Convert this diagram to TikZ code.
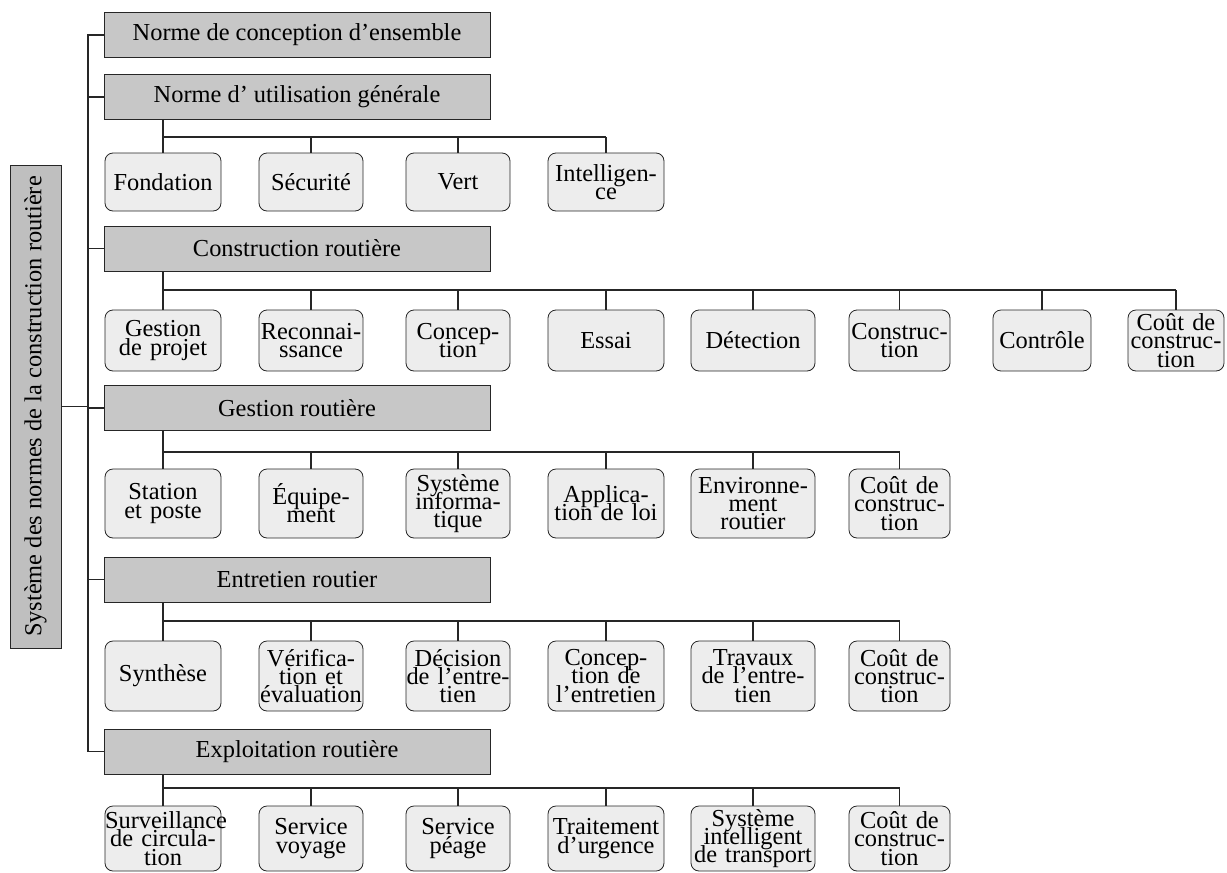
\documentclass[tikz,border=0pt]{standalone}
\usepackage{fontspec}
\setmainfont{Liberation Serif}
\newcommand{\headfont}{\fontsize{12.2}{14}\selectfont}
\newcommand{\leaffont}{\fontsize{12.2}{9.1}\selectfont\lineskiplimit=-20pt\hyphenpenalty=10000\relax}
\tikzstyle{sysbox} = [rectangle, draw=black!85, fill=black!25, rotate=90,
     minimum width=241.5pt, minimum height=25.5pt, inner sep=0pt, font=\headfont]
\tikzstyle{head} = [rectangle, draw=black!85, fill=black!22,
     minimum width=193pt, minimum height=22.5pt, inner sep=0pt, font=\headfont]
\tikzstyle{leaf} = [rectangle, draw=black!85, fill=black!7, rounded corners=4pt,
     align=center, inner sep=0pt, font=\leaffont]
\tikzstyle{line} = [line width=0.6pt, draw=black!85]
% column widths
\tikzstyle{col1} = [text width=58pt]
\tikzstyle{col2} = [text width=52pt]
\tikzstyle{col3} = [text width=52pt]
\tikzstyle{col4} = [text width=58pt]
\tikzstyle{col5} = [text width=62pt]
\tikzstyle{col6} = [text width=50.5pt]
\tikzstyle{col7} = [text width=49pt]
\tikzstyle{col8} = [text width=48pt]
% row heights
\tikzstyle{row1} = [minimum height=29pt]
\tikzstyle{row2} = [minimum height=30.5pt]
\tikzstyle{row3} = [minimum height=34.5pt]
\tikzstyle{row4} = [minimum height=35pt]
\tikzstyle{row5} = [minimum height=32.5pt]

\begin{document}
\begin{tikzpicture}[x=0.5pt, y=-0.5pt]
     \useasboundingbox (0,0) rectangle (1227,873);
     % Nodes
     \node [sysbox] (sys) at (35.5,406.5) {Système des normes de la construction routière};
     \node [head] (ens) at (297,35) {Norme de conception d’ensemble};
     \node [head] (gen) at (297,97) {Norme d’ utilisation générale};
     \node [head] (constr) at (297,248.5) {Construction routière};
     \node [head] (gest) at (297,408) {Gestion routière};
     \node [head] (entr) at (297,579.5) {Entretien routier};
     \node [head] (expl) at (297,751.5) {Exploitation routière};

     \node [leaf, col1, row1] (fond) at (163,182) {Fondation};
     \node [leaf, col2, row1] (secu) at (311,182) {Sécurité};
     \node [leaf, col3, row1] (vert) at (458,182) {Vert};
     \node [leaf, col4, row1] (intel) at (606,182) {Intelligen-\\ce};

     \node [leaf, col1, row2] (projet) at (163,340.5) {Gestion\\de projet};
     \node [leaf, col2, row2] (recon) at (311,340.5) {Reconnai-\\ssance};
     \node [leaf, col3, row2] (concep) at (458,340.5) {Concep-\\tion};
     \node [leaf, col4, row2] (essai) at (606,340.5) {Essai};
     \node [leaf, col5, row2] (detect) at (753,340.5) {Détection};
     \node [leaf, col6, row2] (travaux) at (899.5,340.5) {Construc-\\tion};
     \node [leaf, col7, row2] (contr) at (1042,340.5) {Contrôle};
     \node [leaf, col8, row2] (coutA) at (1176,340.5) {Coût de\\construc-\\tion};

     \node [leaf, col1, row3] (station) at (163,503.5) {Station\\et poste};
     \node [leaf, col2, row3] (equip) at (311,503.5) {Équipe-\\ment};
     \node [leaf, col3, row3] (info) at (458,503.5) {Système\\informa-\\tique};
     \node [leaf, col4, row3] (loi) at (606,503.5) {Applica-\\tion de loi};
     \node [leaf, col5, row3] (envir) at (753,503.5) {Environne-\\ment\\routier};
     \node [leaf, col6, row3] (coutB) at (899.5,503.5) {Coût de\\construc-\\tion};

     \node [leaf, col1, row4] (synth) at (163,676) {Synthèse};
     \node [leaf, col2, row4] (verif) at (311,676) {Vérifica-\\tion et\\évaluation};
     \node [leaf, col3, row4] (decis) at (458,676) {Décision\\de l’entre-\\tien};
     \node [leaf, col4, row4] (concent) at (606,676) {Concep-\\tion de\\l’entretien};
     \node [leaf, col5, row4] (trav) at (753,676) {Travaux\\de l’entre-\\tien};
     \node [leaf, col6, row4] (coutC) at (899.5,676) {Coût de\\construc-\\tion};

     \node [leaf, col1, row5] (surv) at (163,838.5) {Surveillance\\de circula-\\tion};
     \node [leaf, col2, row5] (voyage) at (311,838.5) {Service\\voyage};
     \node [leaf, col3, row5] (peage) at (458,838.5) {Service\\péage};
     \node [leaf, col4, row5] (urg) at (606,838.5) {Traitement\\d’urgence};
     \node [leaf, col5, row5] (its) at (753,838.5) {Système\\intelligent\\de transport};
     \node [leaf, col6, row5] (coutD) at (899.5,838.5) {Coût de\\construc-\\tion};

     % Lines
     \coordinate (spine) at (88,0);
     \draw [line] (ens.west) -- (ens.west -| spine) -- (expl.west -| spine) -- (expl.west);
     \draw [line] (gen.west) -- (gen.west -| spine);
     \draw [line] (constr.west) -- (constr.west -| spine);
     \draw [line] (gest.west) -- (gest.west -| spine);
     \draw [line] (entr.west) -- (entr.west -| spine);
     \draw [line] (sys.south) -- (sys.south -| spine);

     \coordinate (barA) at (0,137);
     \draw [line] (gen.south -| fond.north) -- (fond.north);
     \draw [line] (fond.north |- barA) -- (intel.north |- barA);
     \draw [line] (secu.north |- barA) -- (secu.north) (vert.north |- barA) -- (vert.north)
          (intel.north |- barA) -- (intel.north);

     \coordinate (barB) at (0,290);
     \draw [line] (constr.south -| projet.north) -- (projet.north);
     \draw [line] (projet.north |- barB) -- (coutA.north |- barB);
     \draw [line] (recon.north |- barB) -- (recon.north) (concep.north |- barB) -- (concep.north)
          (essai.north |- barB) -- (essai.north) (detect.north |- barB) -- (detect.north)
          (travaux.north |- barB) -- (travaux.north) (contr.north |- barB) -- (contr.north)
          (coutA.north |- barB) -- (coutA.north);

     \coordinate (barC) at (0,452);
     \draw [line] (gest.south -| station.north) -- (station.north);
     \draw [line] (station.north |- barC) -- (coutB.north |- barC);
     \draw [line] (equip.north |- barC) -- (equip.north) (info.north |- barC) -- (info.north)
          (loi.north |- barC) -- (loi.north) (envir.north |- barC) -- (envir.north)
          (coutB.north |- barC) -- (coutB.north);

     \coordinate (barD) at (0,621);
     \draw [line] (entr.south -| synth.north) -- (synth.north);
     \draw [line] (synth.north |- barD) -- (coutC.north |- barD);
     \draw [line] (verif.north |- barD) -- (verif.north) (decis.north |- barD) -- (decis.north)
          (concent.north |- barD) -- (concent.north) (trav.north |- barD) -- (trav.north)
          (coutC.north |- barD) -- (coutC.north);

     \coordinate (barE) at (0,788);
     \draw [line] (expl.south -| surv.north) -- (surv.north);
     \draw [line] (surv.north |- barE) -- (coutD.north |- barE);
     \draw [line] (voyage.north |- barE) -- (voyage.north) (peage.north |- barE) -- (peage.north)
          (urg.north |- barE) -- (urg.north) (its.north |- barE) -- (its.north)
          (coutD.north |- barE) -- (coutD.north);
\end{tikzpicture}
\end{document}
